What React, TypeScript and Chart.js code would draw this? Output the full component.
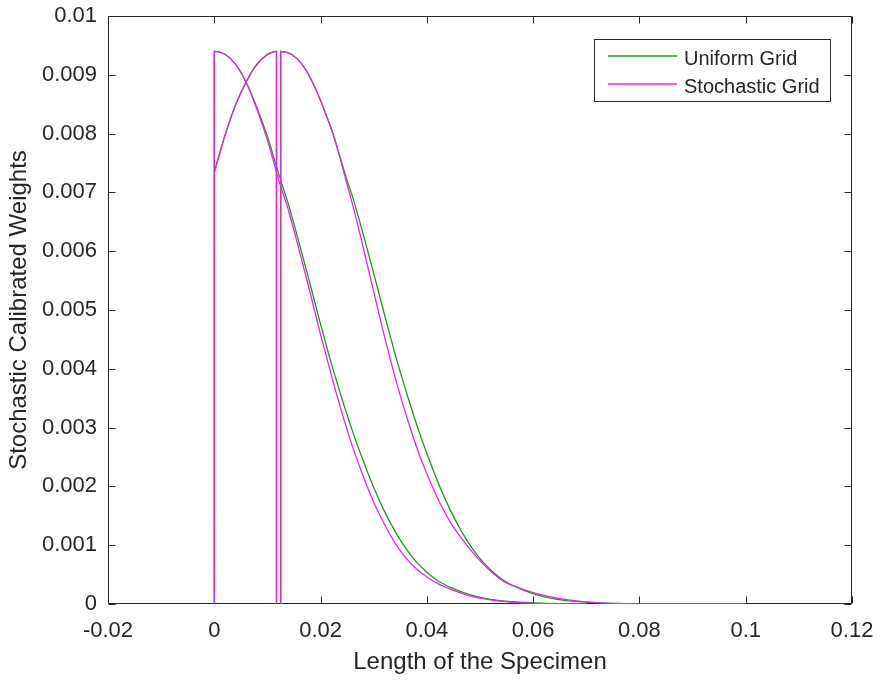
import React, { useEffect, useRef } from 'react';
import { Chart, registerables } from 'chart.js';

Chart.register(...registerables);

// ---- Axis ticks ----
const X_TICKS = [-0.02, 0, 0.02, 0.04, 0.06, 0.08, 0.1, 0.12];
const X_TICK_LABELS = ['-0.02', '0', '0.02', '0.04', '0.06', '0.08', '0.1', '0.12'];
const Y_TICKS = [0, 0.001, 0.002, 0.003, 0.004, 0.005, 0.006, 0.007, 0.008, 0.009, 0.01];
const Y_TICK_LABELS = ['0', '0.001', '0.002', '0.003', '0.004', '0.005', '0.006', '0.007', '0.008', '0.009', '0.01'];

const X_TITLE = 'Length of the Specimen';
const Y_TITLE = 'Stochastic Calibrated Weights';
const SERIES_NAMES = ['Uniform Grid', 'Stochastic Grid'];

// ---- Branch 1: decaying branch starting at x = 0 ----
const X_FIRST = [0, 0, 0.002, 0.004, 0.006, 0.008, 0.010, 0.012, 0.014, 0.016, 0.018, 0.020, 0.022, 0.024, 0.026, 0.028, 0.030, 0.032, 0.034, 0.036, 0.038, 0.040, 0.042, 0.045, 0.048, 0.052, 0.056, 0.060, 0.065, 0.070];
const UNIFORM_FIRST = [0, 0.0094, 0.00935, 0.00918, 0.00887, 0.00845, 0.00795, 0.00735, 0.00678, 0.00613, 0.00545, 0.00476, 0.00410, 0.00350, 0.00294, 0.00244, 0.00198, 0.00158, 0.00124, 0.00095, 0.00072, 0.00054, 0.00040, 0.00026, 0.00016, 0.00008, 0.00004, 0.00002, 0.000005, 0];
const STOCH_FIRST = [0, 0.0094, 0.00935, 0.00918, 0.00887, 0.00842, 0.00789, 0.00725, 0.00668, 0.00601, 0.00531, 0.00458, 0.00390, 0.00326, 0.00268, 0.00218, 0.00173, 0.00136, 0.00104, 0.00079, 0.00060, 0.00046, 0.00035, 0.00023, 0.00014, 0.00007, 0.00003, 0.00001, 0.000003, 0];

// ---- Branch 2: rising branch from x = 0 to the cut ----
const X_RISE = [0, 0.002, 0.004, 0.006, 0.008, 0.010, 0.0117, 0.0117];
const UNIFORM_RISE = [0.00735, 0.00797, 0.00849, 0.00888, 0.00917, 0.00934, 0.0094, 0];
const STOCH_RISE = [0.00733, 0.00796, 0.00848, 0.00888, 0.00918, 0.00935, 0.0094, 0];

// ---- Branch 3: decaying branch after the cut ----
const X_SECOND = [0.0125, 0.0125, 0.0145, 0.0165, 0.0185, 0.0205, 0.0225, 0.0245, 0.0265, 0.0285, 0.0305, 0.0325, 0.0345, 0.0365, 0.0385, 0.0405, 0.0425, 0.0445, 0.0465, 0.0485, 0.0505, 0.0525, 0.0545, 0.0575, 0.0605, 0.0645, 0.0685, 0.0725, 0.0775, 0.0825, 0.09, 0.1];
const UNIFORM_SECOND = [0, 0.0094, 0.00935, 0.00918, 0.00887, 0.00845, 0.00795, 0.00735, 0.00678, 0.00613, 0.00545, 0.00476, 0.00410, 0.00350, 0.00294, 0.00244, 0.00198, 0.00158, 0.00124, 0.00095, 0.00072, 0.00054, 0.00040, 0.00026, 0.00016, 0.00008, 0.00004, 0.00002, 0.000005, 0.000001, 0, 0];
const STOCH_SECOND = [0, 0.0094, 0.00935, 0.00918, 0.00887, 0.00845, 0.00795, 0.00730, 0.00663, 0.00588, 0.00512, 0.00438, 0.00370, 0.00310, 0.00256, 0.00211, 0.00171, 0.00138, 0.00112, 0.00089, 0.00069, 0.00052, 0.00038, 0.00027, 0.00018, 0.00010, 0.00005, 0.00002, 0.000006, 0.000001, 0, 0];

const GREEN = 'rgb(30,150,30)';
const MAGENTA = 'rgb(225,40,225)';
const AXIS_COLOR = '#262626';
const FONT = "'Liberation Sans', Arial, Helvetica, sans-serif";

const zip = (xs: number[], ys: number[]) => xs.map((x, i) => ({ x, y: ys[i] }));

const framePlugin = {
  id: 'matlabFrame',
  beforeDatasetsDraw(chart: any) {
    const { ctx, chartArea } = chart;
    const { left, right, top, bottom } = chartArea;
    const xs = chart.scales.x;
    const ys = chart.scales.y;
    ctx.save();
    ctx.strokeStyle = AXIS_COLOR;
    ctx.lineWidth = 1;
    const L = Math.round(left) + 0.5;
    const R = Math.round(right) - 0.5;
    const T = Math.round(top) + 0.5;
    const B = Math.round(bottom) - 0.5;
    ctx.beginPath();
    ctx.rect(L, T, R - L, B - T);
    ctx.stroke();
    const tl = 7;
    ctx.beginPath();
    X_TICKS.forEach((v) => {
      const px = Math.round(xs.getPixelForValue(v)) + 0.5;
      ctx.moveTo(px, B);
      ctx.lineTo(px, B - tl);
      ctx.moveTo(px, T);
      ctx.lineTo(px, T + tl);
    });
    Y_TICKS.forEach((v) => {
      const py = Math.round(ys.getPixelForValue(v)) + 0.5;
      ctx.moveTo(L, py);
      ctx.lineTo(L + tl, py);
      ctx.moveTo(R, py);
      ctx.lineTo(R - tl, py);
    });
    ctx.stroke();
    ctx.restore();
  },
  afterDraw(chart: any) {
    const { ctx } = chart;
    ctx.save();
    const bx = 594.5, by = 39.5, bw = 236, bh = 62;
    ctx.fillStyle = '#ffffff';
    ctx.fillRect(bx, by, bw, bh);
    ctx.strokeStyle = AXIS_COLOR;
    ctx.lineWidth = 1;
    ctx.strokeRect(bx, by, bw, bh);
    const colors = [GREEN, MAGENTA];
    const lineY = [56, 84];
    const textY = [59, 87];
    ctx.font = `20px ${FONT}`;
    ctx.textBaseline = 'middle';
    ctx.textAlign = 'left';
    SERIES_NAMES.forEach((name, i) => {
      ctx.strokeStyle = colors[i];
      ctx.lineWidth = 1.3;
      ctx.beginPath();
      ctx.moveTo(608, lineY[i]);
      ctx.lineTo(677, lineY[i]);
      ctx.stroke();
      ctx.fillStyle = AXIS_COLOR;
      ctx.fillText(name, 684, textY[i]);
    });
    ctx.restore();
  },
};

function lineDs(label: string, data: { x: number; y: number }[], color: string, order: number) {
  return {
    label,
    data,
    showLine: true,
    borderColor: color,
    backgroundColor: color,
    borderWidth: 1.3,
    pointRadius: 0,
    pointHoverRadius: 0,
    fill: false,
    cubicInterpolationMode: 'monotone' as const,
    order,
  };
}

export default function App() {
  const canvasRef = useRef<HTMLCanvasElement | null>(null);

  useEffect(() => {
    if (!canvasRef.current) return;
    const chart = new Chart(canvasRef.current, {
      type: 'scatter',
      data: {
        datasets: [
          lineDs(SERIES_NAMES[0], zip(X_FIRST, UNIFORM_FIRST), GREEN, 2),
          lineDs(SERIES_NAMES[0], zip(X_RISE, UNIFORM_RISE), GREEN, 2),
          lineDs(SERIES_NAMES[0], zip(X_SECOND, UNIFORM_SECOND), GREEN, 2),
          lineDs(SERIES_NAMES[1], zip(X_FIRST, STOCH_FIRST), MAGENTA, 1),
          lineDs(SERIES_NAMES[1], zip(X_RISE, STOCH_RISE), MAGENTA, 1),
          lineDs(SERIES_NAMES[1], zip(X_SECOND, STOCH_SECOND), MAGENTA, 1),
        ],
      },
      options: {
        animation: false,
        responsive: false,
        maintainAspectRatio: false,
        layout: { padding: { top: 16, right: 30, left: 0, bottom: 0 } },
        plugins: {
          legend: { display: false },
          tooltip: { enabled: false },
        },
        scales: {
          x: {
            type: 'linear',
            min: -0.02,
            max: 0.12,
            afterBuildTicks: (scale: any) => {
              scale.ticks = X_TICKS.map((v) => ({ value: v }));
            },
            afterFit: (scale: any) => {
              scale.height = 76;
              scale.paddingLeft = 0;
              scale.paddingRight = 0;
              scale.paddingTop = 0;
              scale.paddingBottom = 0;
            },
            grid: { display: false, drawTicks: false },
            border: { display: false },
            ticks: {
              padding: 14,
              maxRotation: 0,
              autoSkip: false,
              color: AXIS_COLOR,
              font: { family: FONT, size: 22 },
              callback: (v: any) => {
                const i = X_TICKS.findIndex((t) => Math.abs(t - Number(v)) < 1e-9);
                return i >= 0 ? X_TICK_LABELS[i] : '';
              },
            },
            title: {
              display: true,
              text: X_TITLE,
              color: AXIS_COLOR,
              font: { family: FONT, size: 24 },
              padding: { top: 0, bottom: 3 },
            },
          },
          y: {
            type: 'linear',
            min: 0,
            max: 0.01,
            afterBuildTicks: (scale: any) => {
              scale.ticks = Y_TICKS.map((v) => ({ value: v }));
            },
            afterFit: (scale: any) => {
              scale.width = 108;
              scale.paddingLeft = 0;
              scale.paddingRight = 0;
              scale.paddingTop = 0;
              scale.paddingBottom = 0;
            },
            grid: { display: false, drawTicks: false },
            border: { display: false },
            ticks: {
              padding: 11,
              autoSkip: false,
              color: AXIS_COLOR,
              font: { family: FONT, size: 22 },
              callback: (v: any) => {
                const i = Y_TICKS.findIndex((t) => Math.abs(t - Number(v)) < 1e-9);
                return i >= 0 ? Y_TICK_LABELS[i] : '';
              },
            },
            title: {
              display: true,
              text: Y_TITLE,
              color: AXIS_COLOR,
              font: { family: FONT, size: 24 },
              padding: { top: 5, bottom: 0 },
            },
          },
        },
      },
      plugins: [framePlugin],
    });
    return () => chart.destroy();
  }, []);

  return (
    <div style={{ position: 'fixed', left: 0, top: 0, width: 882, height: 680, background: '#fff' }}>
      <canvas ref={canvasRef} width={882} height={680} style={{ display: 'block' }} />
    </div>
  );
}
